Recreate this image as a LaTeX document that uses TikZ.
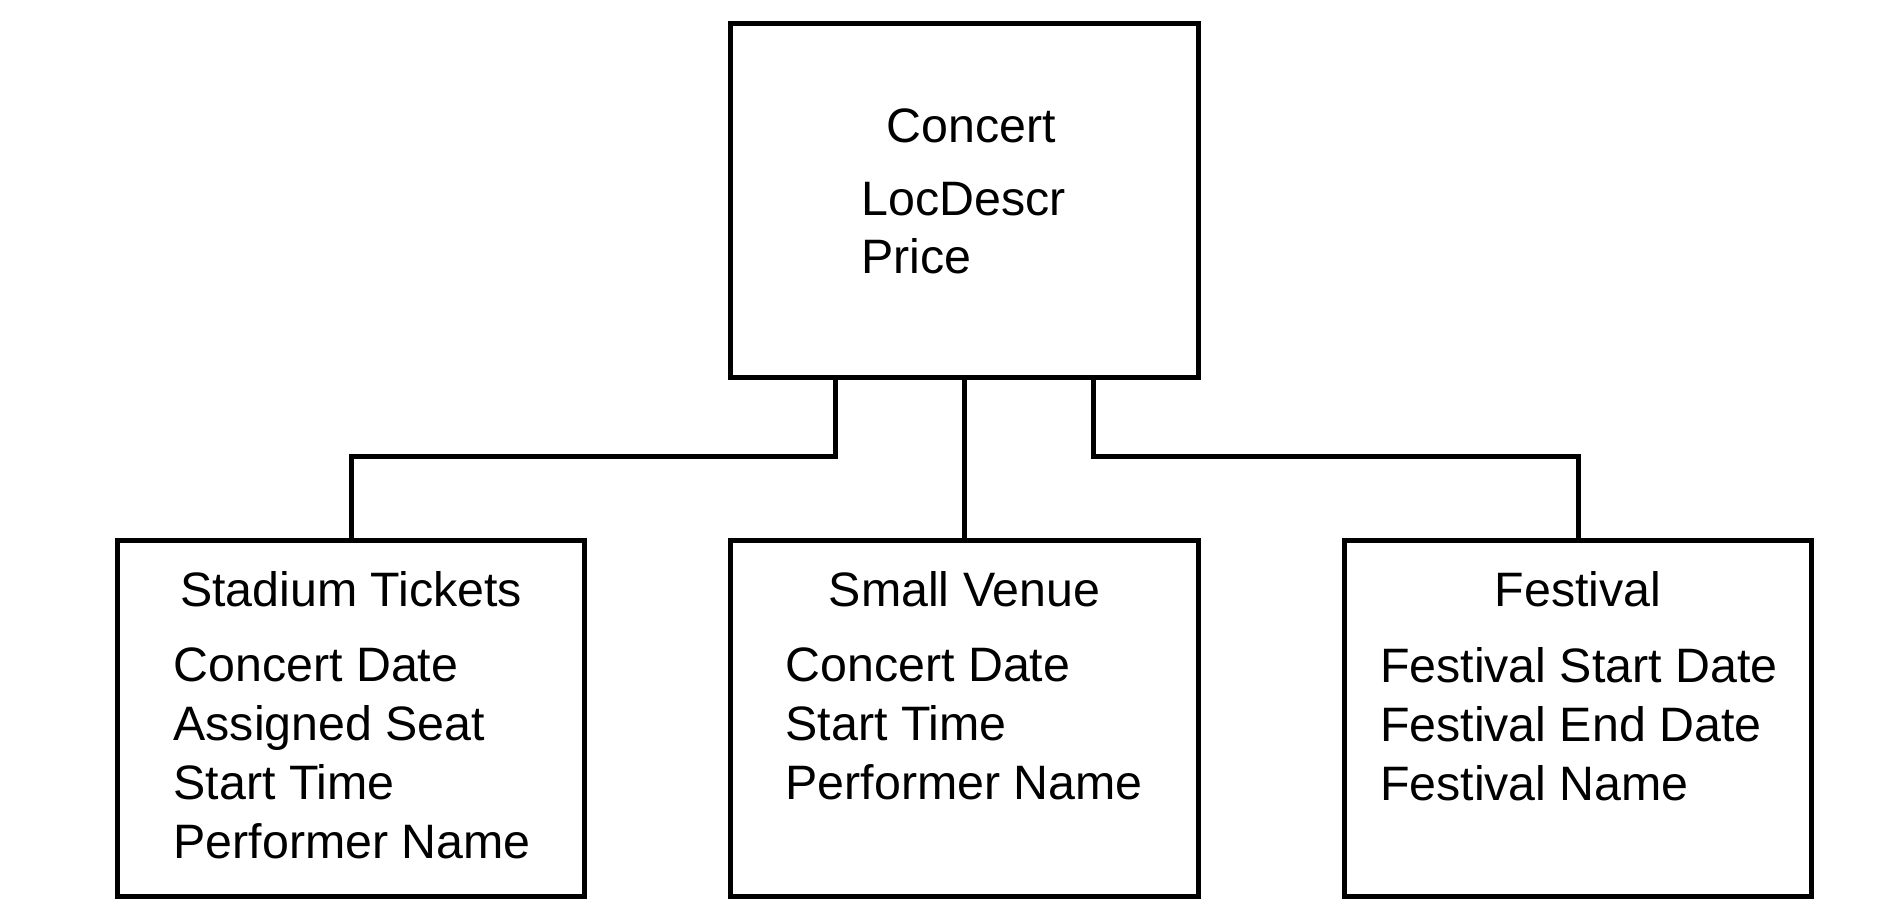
\documentclass[tikz,border=0pt]{standalone}
\usepackage{fontspec}
\setmainfont{Liberation Sans}
\usetikzlibrary{positioning,calc}

\begin{document}
\begin{tikzpicture}[
  box/.style={rectangle,draw,line width=0.1cm,minimum width=9.35cm,minimum height=7.1cm},
  title/.style={font=\fontsize{27.5}{33.5}\selectfont,inner sep=0pt},
  attrs/.style={font=\fontsize{27.5}{33.5}\selectfont,inner sep=0pt,align=left},
  level distance=10.35cm, sibling distance=12.27cm,
  edge from parent/.style={draw,line width=0.1cm},
  edge from parent path={($(\tikzparentnode.south)!.21!(\tikzparentnode.south -| \tikzchildnode.north)$) |- ($(\tikzparentnode.south)!.48!(\tikzchildnode.north)$) -| (\tikzchildnode.north)}
]
\useasboundingbox (0,0) rectangle (37.92,-18.4);
\node (concert) [box,minimum width=9.36cm,minimum height=7.08cm] at (19.29,-4.02) {} [grow=down]
child {node (stadium) [box] {}}
child {node (venue) [box] {}}
child {node (festival) [box] {}};
\node (concertT) [title,below=2.42cm of concert.north,anchor=base,xshift=0.14cm] {Concert};
\node (concertA) [attrs,below right=3.2cm and 2.66cm of concert.north west] {LocDescr\\Price};
\node (stadiumT) [title,below=1.37cm of stadium.north,anchor=base] {Stadium Tickets};
\node (stadiumA) [attrs,below right=2.18cm and 1.17cm of stadium.north west] {Concert Date\\Assigned Seat\\Start Time\\Performer Name};
\node (venueT) [title,below=1.37cm of venue.north,anchor=base] {Small Venue};
\node (venueA) [attrs,below right=2.18cm and 1.14cm of venue.north west] {Concert Date\\Start Time\\Performer Name};
\node (festivalT) [title,below=1.37cm of festival.north,anchor=base] {Festival};
\node (festivalA) [attrs,below right=2.18cm and 0.76cm of festival.north west] {Festival Start Date\\Festival End Date\\Festival Name};
\end{tikzpicture}
\end{document}
